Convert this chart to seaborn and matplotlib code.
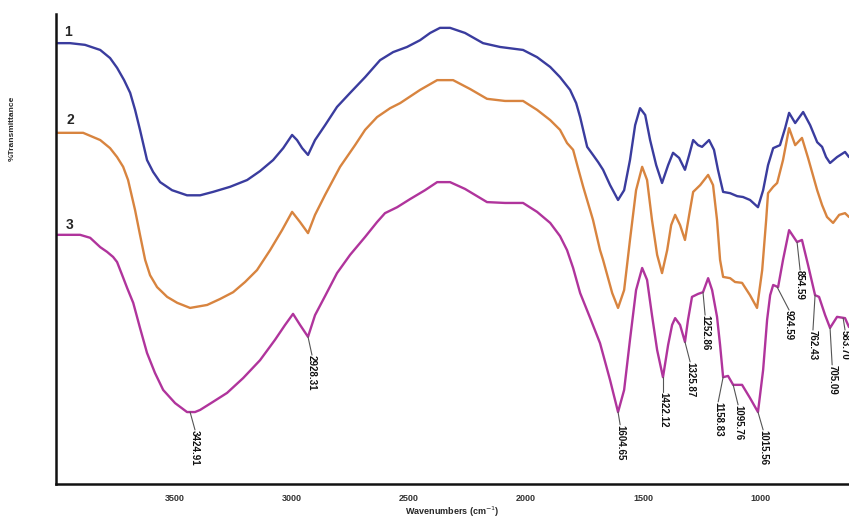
import matplotlib
matplotlib.use("Agg")
import matplotlib.pyplot as plt
import seaborn as sns
import pandas as pd

# FTIR spectra, wavenumber (cm-1) vs %T (arbitrary offset units)
wn_1 = [4004, 3949, 3885, 3820, 3778, 3748, 3718, 3692, 3671, 3650, 3620, 3594, 3564, 3513,
        3449, 3393, 3338, 3265, 3192, 3137, 3081, 3038, 3000, 2979, 2957, 2932, 2902, 2859,
        2808, 2752, 2688, 2624, 2568, 2509, 2453, 2410, 2368, 2325, 2261, 2184, 2111, 2013,
        1953, 1897, 1855, 1812, 1786, 1769, 1739, 1714, 1692, 1671, 1641, 1607, 1581, 1556,
        1534, 1513, 1491, 1470, 1444, 1419, 1393, 1372, 1346, 1321, 1303, 1286, 1265, 1248,
        1218, 1197, 1180, 1158, 1128, 1098, 1073, 1043, 1009, 987, 966, 944, 915, 893, 876,
        850, 816, 786, 756, 735, 718, 701, 671, 637, 620]
t_1 = [104.2, 104.2, 103.8, 102.6, 100.7, 98.4, 95.5, 92.5, 88.5, 83.8, 76.7, 73.9, 71.5, 69.6,
       68.4, 68.4, 69.2, 70.4, 72.0, 74.1, 76.7, 79.5, 82.6, 81.4, 79.5, 77.9, 81.4, 84.9,
       89.2, 92.5, 96.2, 100.2, 102.1, 103.3, 104.9, 106.6, 107.8, 107.8, 106.6, 104.2, 103.3, 102.6,
       100.9, 98.6, 96.2, 93.2, 90.1, 86.8, 79.8, 77.9, 76.2, 74.4, 70.8, 67.3, 69.6, 76.7,
       84.9, 88.9, 87.3, 81.4, 75.5, 71.3, 75.5, 78.4, 77.2, 74.4, 77.9, 81.4, 80.2, 79.8,
       81.4, 79.1, 74.4, 69.2, 68.9, 68.2, 68.0, 67.3, 65.6, 69.6, 75.5, 79.5, 80.2, 84.2, 87.8,
       85.4, 88.0, 84.9, 80.9, 79.8, 77.4, 76.0, 77.4, 78.6, 77.4]

wn_2 = [4004, 3949, 3893, 3820, 3778, 3748, 3722, 3701, 3671, 3650, 3628, 3607, 3577, 3534,
        3491, 3436, 3363, 3308, 3252, 3201, 3150, 3094, 3043, 3000, 2966, 2932, 2902, 2859,
        2795, 2731, 2688, 2637, 2581, 2538, 2453, 2380, 2312, 2239, 2167, 2090, 2013, 1953,
        1897, 1855, 1825, 1799, 1778, 1756, 1714, 1684, 1671, 1632, 1607, 1581, 1556, 1530,
        1504, 1483, 1462, 1440, 1419, 1397, 1380, 1363, 1342, 1321, 1303, 1286, 1256, 1222,
        1201, 1184, 1171, 1158, 1128, 1107, 1077, 1043, 1013, 991, 974, 966, 944, 927, 902,
        876, 850, 821, 795, 756, 735, 714, 688, 662, 637, 620]
t_2 = [83.1, 83.1, 83.1, 81.4, 79.5, 77.4, 75.1, 72.0, 64.9, 59.1, 53.2, 49.6, 46.8, 44.5,
       43.1, 41.9, 42.6, 44.0, 45.6, 48.0, 50.8, 55.5, 60.2, 64.5, 62.1, 59.5, 63.8, 68.5,
       75.1, 80.2, 83.8, 86.8, 88.9, 90.1, 93.2, 95.5, 95.5, 93.4, 91.1, 90.6, 90.6, 88.5,
       86.1, 83.8, 80.7, 79.1, 74.8, 70.4, 62.6, 55.5, 53.2, 45.4, 41.9, 46.1, 57.9, 69.6,
       75.1, 72.0, 62.6, 54.4, 50.1, 55.5, 61.4, 63.8, 61.4, 57.9, 63.8, 69.2, 70.8, 73.2,
       70.8, 62.6, 53.2, 49.2, 48.9, 48.0, 47.8, 44.9, 41.9, 50.8, 62.6, 68.9, 70.4, 71.3, 76.7,
       84.2, 80.2, 81.9, 77.2, 69.6, 66.1, 63.3, 61.9, 63.8, 64.2, 63.3]

wn_3 = [4004, 3949, 3906, 3863, 3820, 3791, 3765, 3748, 3726, 3705, 3679, 3650, 3620, 3586,
        3551, 3500, 3449, 3415, 3393, 3338, 3278, 3209, 3137, 3073, 3030, 2996, 2966, 2932,
        2902, 2859, 2808, 2752, 2688, 2637, 2603, 2551, 2496, 2432, 2380, 2325, 2261, 2167,
        2090, 2013, 1953, 1897, 1855, 1825, 1799, 1769, 1726, 1684, 1641, 1607, 1581, 1556,
        1530, 1504, 1483, 1462, 1440, 1415, 1393, 1376, 1363, 1342, 1321, 1308, 1291, 1265,
        1244, 1222, 1205, 1184, 1171, 1158, 1137, 1115, 1094, 1077, 1043, 1009, 987, 970, 957,
        944, 923, 902, 876, 842, 821, 795, 765, 748, 722, 701, 671, 637, 620]
t_3 = [59.1, 59.1, 59.1, 58.4, 56.2, 55.1, 53.9, 52.7, 49.6, 46.6, 43.1, 37.2, 31.3, 26.6,
       22.6, 19.5, 17.4, 17.4, 17.9, 19.8, 21.9, 25.4, 29.6, 34.4, 37.9, 40.5, 37.9, 35.1,
       40.2, 44.7, 50.1, 54.4, 58.6, 62.1, 64.2, 65.6, 67.5, 69.6, 71.5, 71.5, 69.9, 66.8,
       66.6, 66.6, 64.5, 61.9, 58.8, 55.5, 51.3, 45.4, 39.5, 33.6, 24.9, 17.4, 22.6, 34.4,
       46.1, 51.3, 48.5, 40.2, 32.0, 25.6, 33.2, 37.9, 39.5, 37.9, 33.9, 39.1, 44.5, 45.2,
       45.6, 48.9, 46.1, 39.8, 33.2, 25.6, 25.9, 23.8, 23.8, 23.8, 20.7, 17.4, 27.3, 39.1, 44.9,
       47.3, 46.8, 53.2, 60.2, 57.4, 57.9, 52.0, 44.9, 44.5, 40.2, 37.2, 39.8, 39.5, 37.4]

# peak labels on spectrum 3: text, point on curve, top of label
peak_text = ["3424.91", "2928.31", "1604.65", "1422.12", "1325.87", "1252.86", "1158.83",
             "1095.76", "1015.56", "924.59", "854.59", "762.43", "705.09", "583.70"]
peak_wn = [3436, 2932, 1607, 1415, 1321, 1244, 1158, 1115, 1009, 927, 842, 765, 701, 645]
peak_t = [17.4, 35.1, 17.4, 25.6, 33.9, 45.6, 25.6, 23.8, 17.4, 46.8, 57.4, 44.9, 37.2, 39.5]
label_wn = [3415, 2915, 1598, 1415, 1299, 1235, 1179, 1094, 987, 876, 829, 774, 692, 637]
label_t = [13.2, 30.8, 14.4, 22.1, 29.2, 40.2, 19.8, 19.1, 13.2, 41.4, 50.8, 36.7, 28.5, 36.7]

x_ticks = [3500, 3000, 2500, 2000, 1500, 1000]
colors = ["#3a3c9e", "#d8843f", "#b0349c"]

sns.set_style("white")
plt.rcParams["font.family"] = ["Liberation Sans", "DejaVu Sans"]

fig = plt.figure(figsize=(8.49, 5.18), dpi=100)
ax = fig.add_axes([56 / 849, 34 / 518, 1 - 56 / 849, 470 / 518])

spectra = [(wn_1, t_1), (wn_2, t_2), (wn_3, t_3)]
for i, (wn, t) in enumerate(spectra):
    df = pd.DataFrame({"wn": wn, "t": t})
    sns.lineplot(data=df, x="wn", y="t", ax=ax, color=colors[i], lw=1.7,
                 sort=False, estimator=None, solid_joinstyle="round")

for txt, pw, pt, lw_, lt in zip(peak_text, peak_wn, peak_t, label_wn, label_t):
    ax.plot([pw, lw_], [pt, lt], color="#555555", lw=0.8)
    ax.text(lw_, lt, txt, rotation=270, ha="center", va="top", fontsize=7,
            color="#111111", fontweight="bold")

ax.text(3957, 106.8, "1", fontsize=10, fontweight="bold", ha="center", va="center")
ax.text(3949, 86.1, "2", fontsize=10, fontweight="bold", ha="center", va="center")
ax.text(3949, 61.4, "3", fontsize=10, fontweight="bold", ha="center", va="center")

ax.set_xlim(4009, 620)
ax.set_ylim(0.47, 111.06)
ax.set_xticks(x_ticks)
ax.set_xticklabels([str(v) for v in x_ticks], fontsize=6.5, color="#333333", fontweight="bold")
ax.set_yticks(range(10, 101, 10))
ax.set_yticklabels([])
ax.tick_params(axis="both", direction="out", length=3, width=0.8, color="#888888", pad=4)

for side in ["top", "right"]:
    ax.spines[side].set_visible(False)
for side in ["left", "bottom"]:
    ax.spines[side].set_color("#111111")
    ax.spines[side].set_linewidth(1.8)

ax.set_xlabel("Wavenumbers (cm$^{-1}$)", fontsize=6.5, fontweight="bold", labelpad=1)
ax.set_ylabel("%Transmittance", fontsize=6, fontweight="bold")
ax.yaxis.set_label_coords(-40 / 793, 0.757)

fig.savefig("out.png", dpi=100)
